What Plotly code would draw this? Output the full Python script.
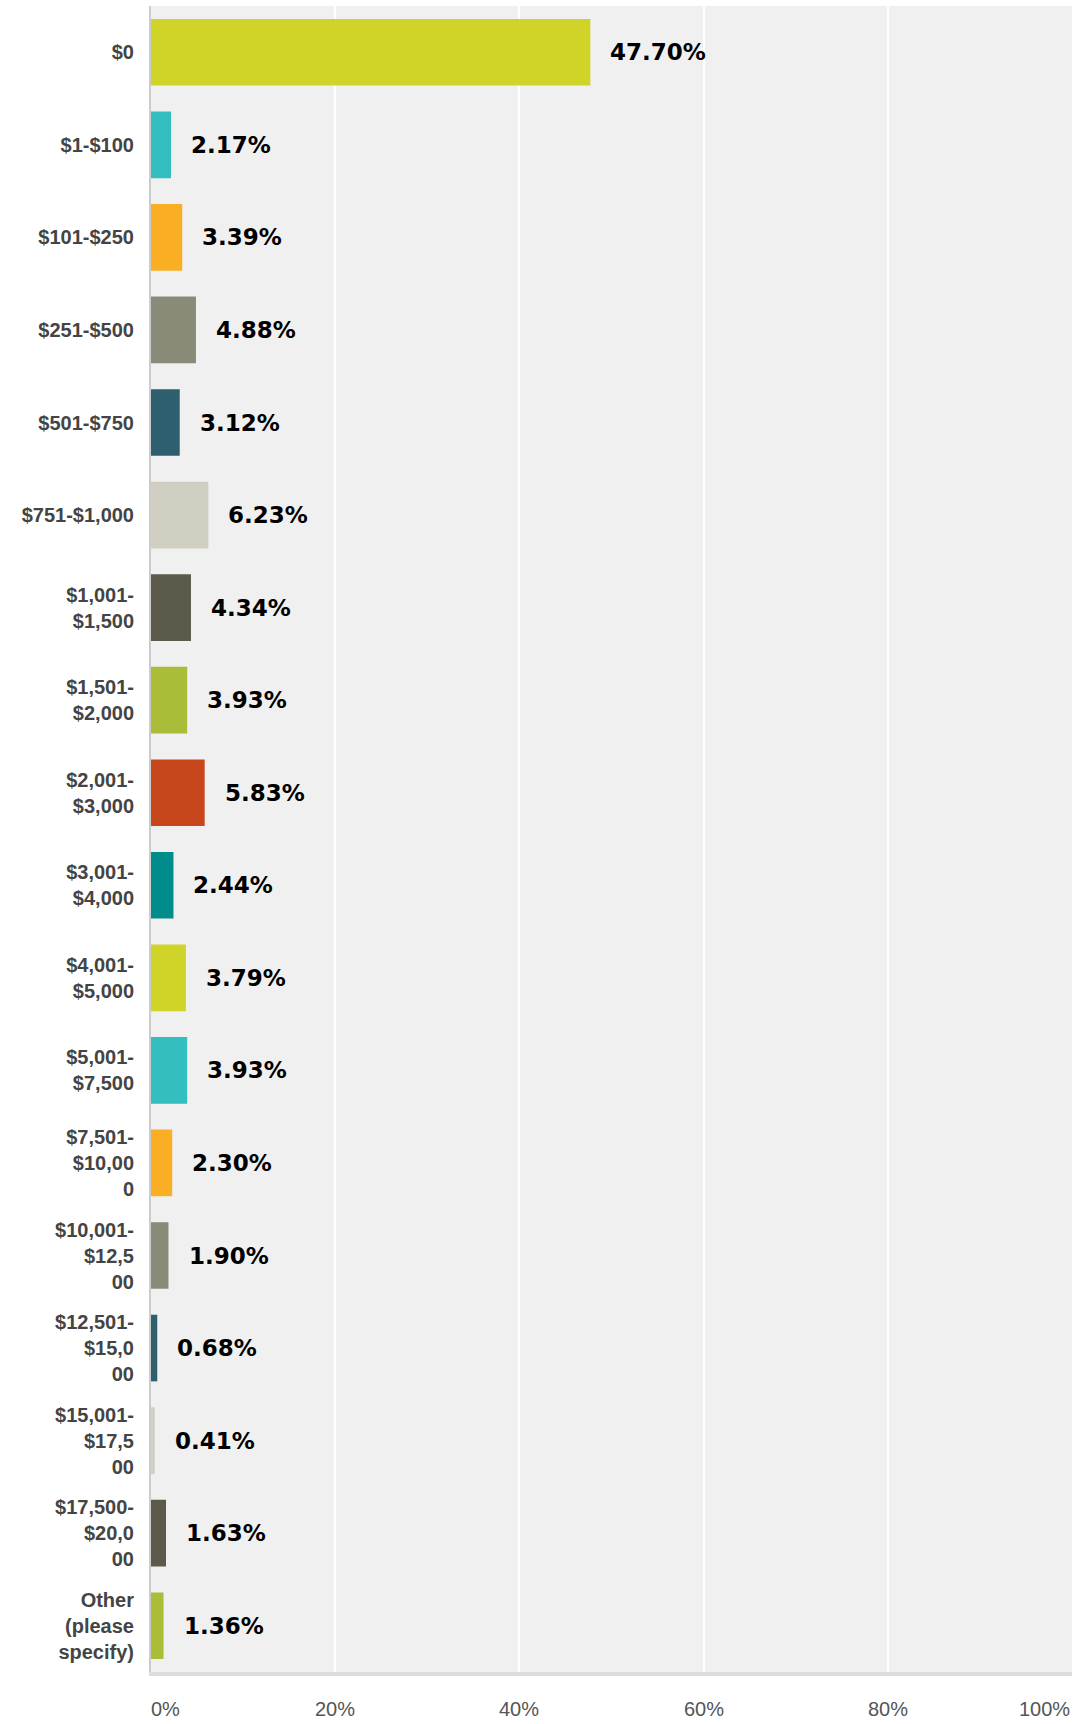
import plotly.graph_objects as go

categories = [
    "$0", "$1-$100", "$101-$250", "$251-$500", "$501-$750", "$751-$1,000",
    "$1,001-<br>$1,500", "$1,501-<br>$2,000", "$2,001-<br>$3,000",
    "$3,001-<br>$4,000", "$4,001-<br>$5,000", "$5,001-<br>$7,500",
    "$7,501-<br>$10,00<br>0", "$10,001-<br>$12,5<br>00", "$12,501-<br>$15,0<br>00",
    "$15,001-<br>$17,5<br>00", "$17,500-<br>$20,0<br>00", "Other<br>(please<br>specify)",
]
values = [47.70, 2.17, 3.39, 4.88, 3.12, 6.23, 4.34, 3.93, 5.83, 2.44,
          3.79, 3.93, 2.30, 1.90, 0.68, 0.41, 1.63, 1.36]
palette = ["#D1D428", "#34BEBF", "#F9AE24", "#8A8A78", "#2D5F6E",
           "#D0CFC1", "#5C5A4A", "#ABBD38", "#C8461C", "#008C8A"]
colors = [palette[i % len(palette)] for i in range(len(values))]
tick_vals = [0, 20, 40, 60, 80, 100]
tick_text = ["0%", "20%", "40%", "60%", "80%", "100%"]

fig = go.Figure()
fig.add_trace(go.Bar(
    x=values, y=categories, orientation="h",
    marker=dict(color=colors, line=dict(width=0)),
    hoverinfo="skip",
))

annotations = []
for v, c in zip(values, categories):
    annotations.append(dict(
        x=v, y=c, xref="x", yref="y", text=f"{v:.2f}%",
        showarrow=False, xanchor="left", yanchor="middle", xshift=18,
        font=dict(family="DejaVu Sans", size=23, color="#000000", weight="bold"),
    ))
for tv, tt in zip(tick_vals, tick_text):
    anchor = "left" if tv == tick_vals[0] else ("right" if tv == tick_vals[-1] else "center")
    annotations.append(dict(
        x=tv, y=0, xref="x", yref="paper", text=tt, showarrow=False,
        xanchor=anchor, yanchor="top", yshift=-24, xshift=-2 if anchor == "left" else 0,
        font=dict(family="Liberation Sans", size=20, color="#555555"),
    ))

fig.update_layout(
    width=1078, height=1724,
    margin=dict(l=151, r=6, t=6, b=52),
    paper_bgcolor="#FFFFFF", plot_bgcolor="#F0F0F0",
    bargap=0.28, showlegend=False,
    annotations=annotations,
    xaxis=dict(
        range=[0, 100], tickvals=tick_vals, showticklabels=False,
        showgrid=True, gridcolor="#FFFFFF", gridwidth=2,
        zeroline=False, showline=True, linecolor="#DDDDDD", linewidth=4,
        fixedrange=True,
    ),
    yaxis=dict(
        autorange="reversed", showgrid=False, zeroline=False,
        showline=True, linecolor="#CCCCCC", linewidth=2,
        ticks="", ticklabelstandoff=11,
        tickfont=dict(family="Liberation Sans", size=20, color="#444444", weight="bold"),
        fixedrange=True,
    ),
)

fig.write_html(
    "out.html",
    config={"displayModeBar": False},
    post_script="document.body.style.margin='0';document.body.style.overflow='hidden';",
)
